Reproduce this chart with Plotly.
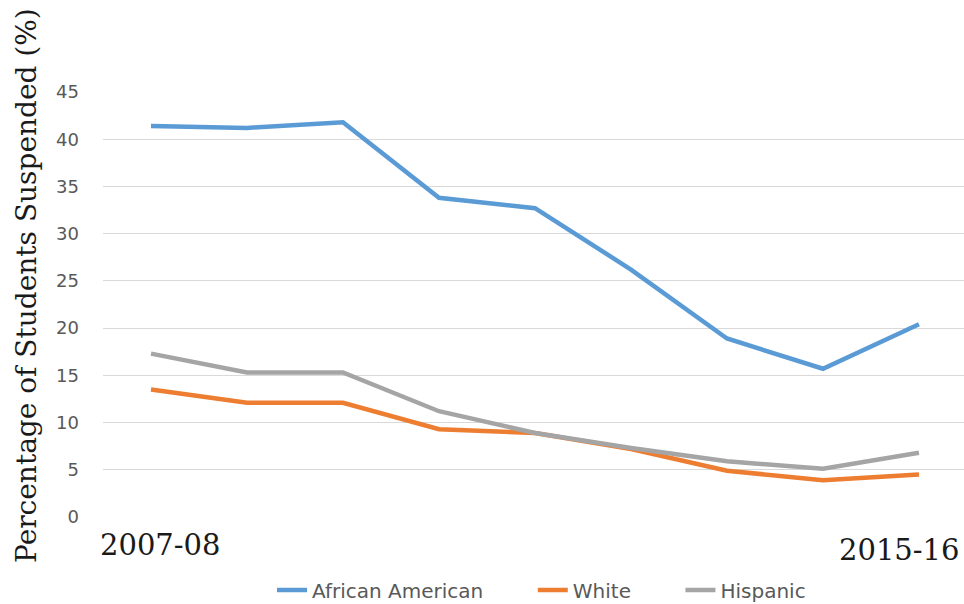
import plotly.graph_objects as go

years = ["2007-08", "2008-09", "2009-10", "2010-11", "2011-12",
         "2012-13", "2013-14", "2014-15", "2015-16"]
african_american = [41.4, 41.2, 41.8, 33.8, 32.7, 26.2, 18.9, 15.7, 20.4]
white = [13.5, 12.1, 12.1, 9.3, 8.9, 7.2, 4.9, 3.9, 4.5]
hispanic = [17.3, 15.3, 15.3, 11.2, 8.9, 7.3, 5.9, 5.1, 6.8]
y_ticks = [0, 5, 10, 15, 20, 25, 30, 35, 40, 45]

series = [
    ("African American", african_american, "#5B9BD5"),
    ("White", white, "#ED7D31"),
    ("Hispanic", hispanic, "#A5A5A5"),
]

PAD = "\u00a0" * 7  # spacing between legend entries

fig = go.Figure()
for name, vals, color in series:
    fig.add_trace(go.Scatter(x=years, y=vals, name=name + PAD, mode="lines",
                             line=dict(color=color, width=4.5)))

fig.update_layout(
    width=964, height=604,
    margin=dict(l=103, r=0, t=92, b=87, autoexpand=False),
    paper_bgcolor="white", plot_bgcolor="white",
    showlegend=True,
    legend=dict(orientation="h", x=0.1963, xanchor="left", y=-0.172, yanchor="middle",
                font=dict(family="DejaVu Sans", size=20, color="#595959"),
                itemwidth=30, tracegroupgap=0),
    xaxis=dict(type="category", range=[-0.5, 8.469], showticklabels=False,
               showgrid=False, zeroline=False, showline=False, automargin=False),
    yaxis=dict(range=[0, 45], tickvals=y_ticks, showgrid=True, gridcolor="#D9D9D9",
               gridwidth=1, zeroline=False, showline=False, automargin=False,
               tickfont=dict(family="DejaVu Sans", size=18, color="#595959"),
               ticklabelstandoff=23),
)

fig.add_annotation(text="Percentage of Students Suspended (%)", textangle=-90,
                   xref="paper", yref="paper", x=-0.0883, y=0.546, xanchor="center",
                   yanchor="middle", showarrow=False,
                   font=dict(family="DejaVu Serif", size=28, color="#1a1a1a"))
fig.add_annotation(text=years[0], x=years[0], xref="x", yref="paper", y=-0.066,
                   xanchor="center", yanchor="middle", xshift=9, showarrow=False,
                   font=dict(family="DejaVu Serif", size=29, color="#1a1a1a"))
fig.add_annotation(text=years[-1], x=years[-1], xref="x", yref="paper", y=-0.078,
                   xanchor="center", yanchor="middle", xshift=-19, showarrow=False,
                   font=dict(family="DejaVu Serif", size=29, color="#1a1a1a"))

fig.write_html("out.html", config={"displayModeBar": False},
               post_script="document.body.style.margin='0';"
                           "document.body.style.overflow='hidden';")
